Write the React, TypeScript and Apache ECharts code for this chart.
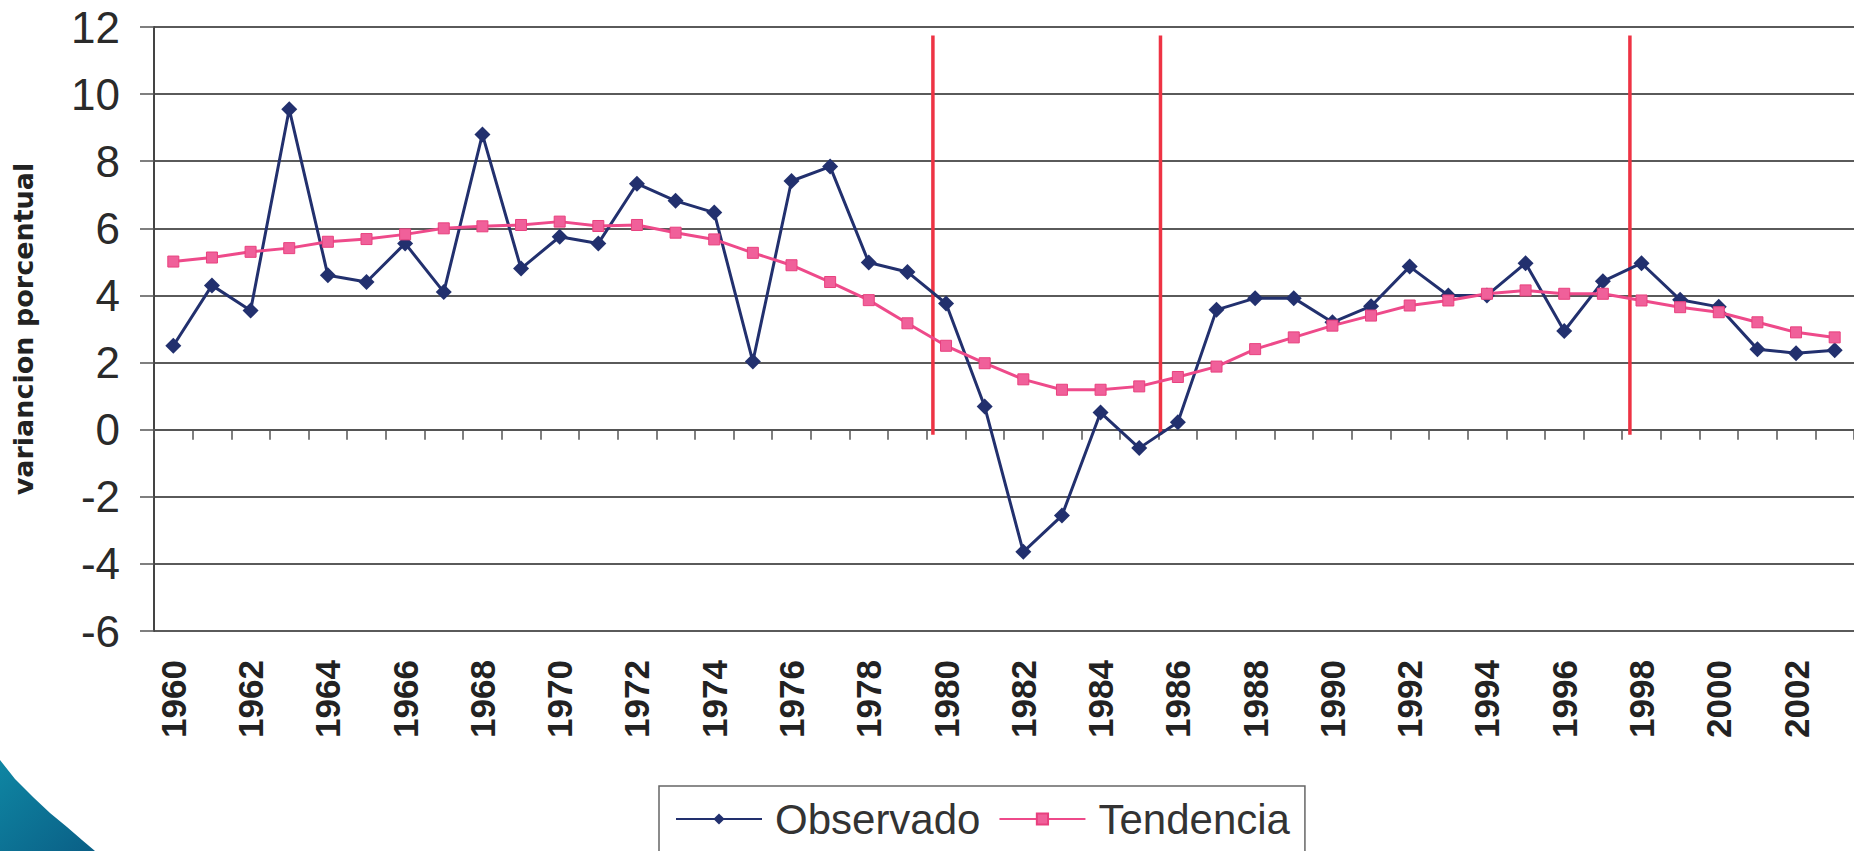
import React, { useEffect, useRef } from "react";
import * as echarts from "echarts";

const years = [
  "1960", "1961", "1962", "1963", "1964", "1965", "1966", "1967", "1968", "1969",
  "1970", "1971", "1972", "1973", "1974", "1975", "1976", "1977", "1978", "1979",
  "1980", "1981", "1982", "1983", "1984", "1985", "1986", "1987", "1988", "1989",
  "1990", "1991", "1992", "1993", "1994", "1995", "1996", "1997", "1998", "1999",
  "2000", "2001", "2002", "2003",
];

const observado = [
  2.5, 4.3, 3.55, 9.55, 4.6, 4.4, 5.55, 4.1, 8.8, 4.8,
  5.75, 5.55, 7.33, 6.82, 6.47, 2.03, 7.41, 7.84, 4.98, 4.7,
  3.76, 0.69, -3.64, -2.56, 0.51, -0.55, 0.22, 3.57, 3.92, 3.92,
  3.2, 3.68, 4.86, 4.0, 4.0, 4.96, 2.94, 4.42, 4.96, 3.87,
  3.66, 2.4, 2.28, 2.37,
];

const tendencia = [
  5.01, 5.13, 5.3, 5.41, 5.6, 5.68, 5.82, 6.0, 6.06, 6.1,
  6.2, 6.07, 6.1, 5.87, 5.67, 5.27, 4.9, 4.4, 3.86, 3.17,
  2.5, 1.98, 1.5, 1.19, 1.19, 1.29, 1.57, 1.88, 2.4, 2.75,
  3.1, 3.4, 3.7, 3.85, 4.05, 4.15, 4.05, 4.05, 3.85, 3.65,
  3.5, 3.2, 2.9, 2.75,
];

// Hand-drawn red break lines (position in years, vertical extent in axis units)
const breakYears = [1979.66, 1985.55, 1997.7];
const breakTop = 11.75;
const breakBottom = -0.15;

const yMin = -6;
const yMax = 12;
const yStep = 2;

const FONT = "'Liberation Sans', Arial, sans-serif";
const NARROW = "'Liberation Sans Narrow', 'Arial Narrow', 'Liberation Sans', sans-serif";

export default function App() {
  const ref = useRef<HTMLDivElement>(null);

  useEffect(() => {
    if (!ref.current) return;
    const chart = echarts.init(ref.current, null, { renderer: "svg" });

    const breakSeries = breakYears.map((yr, i) => ({
      name: "break" + i,
      type: "line",
      xAxisIndex: 2,
      yAxisIndex: 0,
      data: [
        [yr, breakBottom],
        [yr, breakTop],
      ],
      showSymbol: false,
      symbol: "none",
      silent: true,
      lineStyle: { color: "#EE3344", width: 3.5 },
      z: 1,
    }));

    chart.setOption({
      animation: false,
      backgroundColor: "#ffffff",
      textStyle: { fontFamily: FONT },
      grid: { left: 154, right: 0, top: 27, bottom: 220, containLabel: false },
      legend: {
        data: ["Observado", "Tendencia"],
        left: 659,
        top: 786,
        orient: "horizontal",
        itemWidth: 86,
        itemHeight: 14,
        itemGap: 18,
        padding: [12, 15, 40, 16],
        borderColor: "#666666",
        borderWidth: 1.5,
        backgroundColor: "#ffffff",
        textStyle: {
          fontSize: 42,
          color: "#333333",
          fontFamily: FONT,
          padding: [0, 0, 0, 8],
        },
      },
      xAxis: [
        {
          type: "category",
          data: years,
          position: "bottom",
          boundaryGap: true,
          axisLine: { show: false, onZero: false },
          axisTick: { show: false },
          splitLine: { show: false },
          axisLabel: {
            interval: 1,
            rotate: 90,
            margin: 29,
            fontSize: 35,
            fontWeight: "bold",
            color: "#222222",
            fontFamily: NARROW,
          },
        },
        {
          type: "category",
          data: years,
          position: "bottom",
          boundaryGap: true,
          axisLine: { show: true, onZero: true, lineStyle: { color: "#555555", width: 2 } },
          axisTick: { show: true, inside: false, length: 10, interval: 0, lineStyle: { color: "#555555", width: 1.5 } },
          axisLabel: { show: false },
          splitLine: { show: false },
        },
        {
          type: "value",
          min: 1959.5,
          max: 2003.5,
          show: false,
          position: "top",
          splitLine: { show: false },
        },
      ],
      yAxis: [
        {
          type: "value",
          min: yMin,
          max: yMax,
          interval: yStep,
          position: "left",
          name: "variancion porcentual",
          nameLocation: "middle",
          nameRotate: 90,
          nameGap: 117,
          nameTextStyle: {
            fontSize: 27,
            fontWeight: "bold",
            color: "#222222",
            fontFamily: "'DejaVu Sans', sans-serif",
          },
          axisLine: { show: true, onZero: false, lineStyle: { color: "#444444", width: 2 } },
          axisTick: { show: true, length: 14, lineStyle: { color: "#555555", width: 1.5 } },
          axisLabel: {
            fontSize: 44,
            color: "#2a2a2a",
            margin: 34,
            fontFamily: FONT,
          },
          splitLine: { show: true, lineStyle: { color: "#5a5a5a", width: 2 } },
        },
      ],
      graphic: [
        {
          type: "polygon",
          z: -1,
          silent: true,
          shape: {
            points: [
              [0, 760],
              [15, 779],
              [33, 797],
              [50, 813],
              [67, 827],
              [82, 840],
              [95, 851],
              [0, 851],
            ],
          },
          style: {
            fill: {
              type: "linear",
              x: 0,
              y: 0,
              x2: 1,
              y2: 1,
              colorStops: [
                { offset: 0, color: "#0f86a3" },
                { offset: 1, color: "#0a5f86" },
              ],
            },
          },
        },
      ],
      series: [
        ...breakSeries,
        {
          name: "Observado",
          type: "line",
          data: observado,
          xAxisIndex: 0,
          yAxisIndex: 0,
          symbol: "diamond",
          symbolSize: 16,
          showAllSymbol: true,
          lineStyle: { color: "#22306E", width: 3 },
          itemStyle: { color: "#22306E" },
          z: 3,
        },
        {
          name: "Tendencia",
          type: "line",
          data: tendencia,
          xAxisIndex: 0,
          yAxisIndex: 0,
          symbol: "rect",
          symbolSize: 11,
          showAllSymbol: true,
          lineStyle: { color: "#EE4A8A", width: 3 },
          itemStyle: { color: "#F0609A", borderColor: "#E8407E", borderWidth: 1 },
          z: 4,
        },
      ],
    });

    return () => {
      chart.dispose();
    };
  }, []);

  return (
    <div
      ref={ref}
      style={{ position: "fixed", left: 0, top: 0, width: 1854, height: 851, background: "#fff" }}
    />
  );
}
